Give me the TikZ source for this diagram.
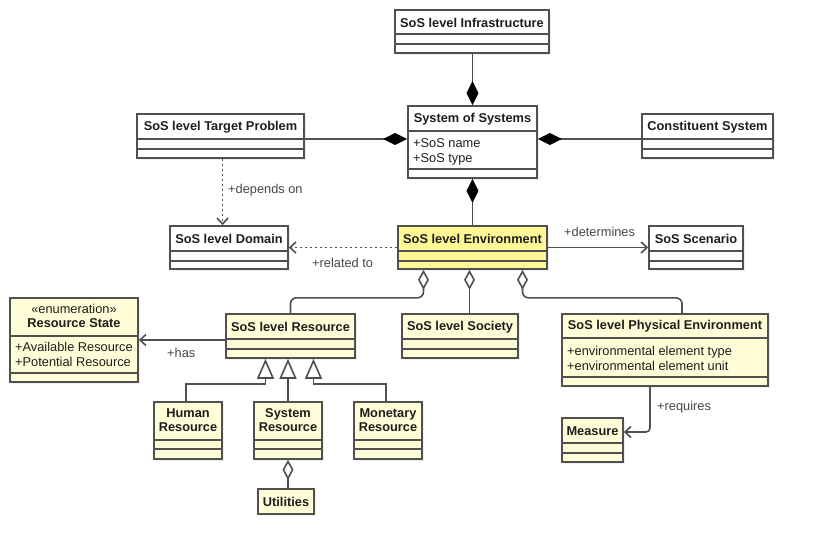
\documentclass[tikz,border=0pt]{standalone}
\usepackage{fontspec}
\setmainfont{Liberation Sans}
\usetikzlibrary{positioning,shadows,arrows.meta,fit}

\definecolor{umlline}{RGB}{80,80,80}
\definecolor{umltext}{RGB}{30,30,30}
\definecolor{umllabel}{RGB}{70,70,70}
\definecolor{umlfill}{RGB}{255,253,215}
\definecolor{envfill}{RGB}{255,246,150}

% class frame: name, fill, left, top, right, bottom, two dividers
\newcommand\umlclass[8]{%
  \node[classbox, fill=#2, fit={(#3,#4) (#5,#6)}] (#1) {};
  \draw[link] (#3,#7) -- (#5,#7) (#3,#8) -- (#5,#8);}

\begin{document}
\begin{tikzpicture}[x=1pt, y=-1pt,
    font=\fontsize{12.8}{15}\selectfont, text=umltext,
    classbox/.style={draw=umlline, line width=1.6pt, inner sep=0pt,
      drop shadow={shadow xshift=2pt, shadow yshift=-2pt, opacity=0.12}},
    title/.style={inner sep=0pt, minimum height=25pt, align=center,
      font=\fontsize{12.8}{14}\selectfont\bfseries},
    attrs/.style={inner sep=0pt, anchor=north west, align=left},
    lbl/.style={inner sep=0pt, anchor=west, text=umllabel},
    link/.style={draw=umlline, line width=1.6pt},
    comp/.style={link, {Diamond[length=24pt, width=12pt, color=black]}-},
    agg/.style={link, rounded corners=6pt, {Diamond[open, length=20pt, width=11pt]}-},
    assoc/.style={link, -{Straight Barb[length=6pt, width=11pt]}},
    dep/.style={assoc, dash pattern=on 2.5pt off 2.5pt},
    gen/.style={link, -{Triangle[open, length=20pt, width=17pt]}}]

\useasboundingbox[fill=white] (0,0) rectangle (813,554);

% classes
\umlclass{infra}{white}{395}{10}{549}{53}{34}{44}
\umlclass{sos}{white}{408}{106}{537}{178}{131}{169}
\umlclass{target}{white}{137}{114}{304}{158}{139}{149}
\umlclass{constituent}{white}{642}{114}{773}{158}{139}{149}
\umlclass{domain}{white}{170}{226}{288}{269}{251}{261}
\umlclass{env}{envfill}{398}{226}{547}{269}{251}{261}
\umlclass{scenario}{white}{649}{226}{743}{269}{251}{261}
\umlclass{state}{umlfill}{10}{298}{138}{382}{336}{373}
\umlclass{resource}{umlfill}{226}{314}{355}{358}{339}{349}
\umlclass{society}{umlfill}{402}{314}{518}{358}{339}{349}
\umlclass{physical}{umlfill}{562}{314}{768}{386}{338}{377}
\umlclass{human}{umlfill}{154}{402}{222}{459}{440}{449}
\umlclass{sysres}{umlfill}{254}{402}{322}{459}{440}{449}
\umlclass{monetary}{umlfill}{354}{402}{422}{459}{440}{449}
\umlclass{measure}{umlfill}{562}{418}{623}{462}{443}{453}
\node[classbox, fill=umlfill, fit={(258,489) (314,514)}] (utilities) {};

% class names
\node[title, below=1pt of infra.north] (infra-t) {SoS level Infrastructure};
\node[title, below=1pt of sos.north] (sos-t) {System of Systems};
\node[title, below=1pt of target.north] (target-t) {SoS level Target Problem};
\node[title, below=1pt of constituent.north] (constituent-t) {Constituent System};
\node[title, below=1pt of domain.north] (domain-t) {SoS level Domain};
\node[title, below=1pt of env.north] (env-t) {SoS level Environment};
\node[title, below=1pt of scenario.north] (scenario-t) {SoS Scenario};
\node[title, minimum height=38pt, below=0pt of state.north] (state-t)
  {{\normalfont «enumeration»}\\Resource State};
\node[title, below=1pt of resource.north] (resource-t) {SoS level Resource};
\node[title, below=1pt of society.north] (society-t) {SoS level Society};
\node[title, minimum height=24pt, below=1pt of physical.north] (physical-t)
  {SoS level Physical Environment};
\node[title, minimum height=38pt, below=0pt of human.north] (human-t) {Human\\Resource};
\node[title, minimum height=38pt, below=0pt of sysres.north] (sysres-t) {System\\Resource};
\node[title, minimum height=38pt, below=0pt of monetary.north] (monetary-t) {Monetary\\Resource};
\node[title, below=1pt of measure.north] (measure-t) {Measure};
\node[title, at=(utilities.center)] (utilities-t) {Utilities};

% attributes
\node[attrs] (sos-a) at (413,138) {+SoS name\\+SoS type};
\node[attrs] (state-a) at (15,342) {+Available Resource\\+Potential Resource};
\node[attrs] (physical-a) at (567,346) {+environmental element type\\+environmental element unit};

% connectors
\draw[comp] (sos.north) -- (sos.north |- infra.south);
\draw[comp] ([yshift=-3pt]sos.west |- constituent.west) -- ([yshift=-3pt]target.east |- constituent.west);
\draw[comp] ([yshift=-3pt]sos.east |- constituent.west) -- ([yshift=-3pt]constituent.west);
\draw[comp] (sos.south) -- (env.north);
\draw[dep] ([xshift=2pt]target.south) -- ([xshift=2pt]target.south |- domain.north);
\draw[dep] (env.west) -- (domain.east);
\draw[assoc] (env.east) -- (scenario.west);
\draw[agg] ([xshift=-49pt]env.south) -- ++(0,28) -| (resource.north);
\draw[agg] ([xshift=-3pt]env.south) -- ([xshift=-3pt]env.south |- society.north);
\draw[agg] ([xshift=50pt]env.south) -- ++(0,28) -| ([xshift=17pt]physical.north);
\draw[assoc] (resource.west |- state.east) -- (state.east);
\draw[gen] ([xshift=-2pt]human.north) -- ++(0,-17) -| ([xshift=-25pt]resource.south);
\draw[gen] (sysres.north) -- (sysres.north |- resource.south);
\draw[gen] ([xshift=-2pt]monetary.north) -- ++(0,-17) -| ([xshift=23pt]resource.south);
\draw[agg] (sysres.south) -- (sysres.south |- utilities.north);
\draw[assoc, rounded corners=4pt] ([xshift=-15pt]physical.south) |- ([yshift=8pt]measure.east);

% role labels
\node[lbl] (depends-l) at (228,190) {+depends on};
\node[lbl] (related-l) at (312,263) {+related to};
\node[lbl] (determines-l) at (564,232) {+determines};
\node[lbl] (has-l) at (167,353) {+has};
\node[lbl] (requires-l) at (657,407) {+requires};
\end{tikzpicture}
\end{document}
